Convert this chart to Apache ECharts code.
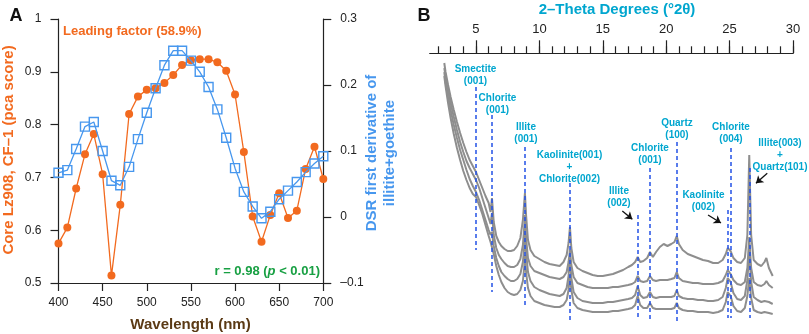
<!DOCTYPE html>
<html>
<head>
<meta charset="utf-8">
<script src="https://cdn.jsdelivr.net/npm/echarts@6/dist/echarts.min.js"></script>
<style>html,body{margin:0;padding:0;background:#fff}#main{width:809px;height:334px}</style>
</head>
<body>
<div id="main"></div>
<script>
// panel A
var wavelength=[400,410,420,430,440,450,460,470,480,490,500,510,520,530,540,550,560,570,580,590,600,610,620,630,640,650,660,670,680,690,700];
var cf1Score=[0.575,0.605,0.679,0.744,0.782,0.706,0.514,0.648,0.820,0.853,0.866,0.869,0.879,0.894,0.913,0.922,0.924,0.924,0.918,0.902,0.857,0.748,0.626,0.578,0.629,0.670,0.623,0.637,0.716,0.758,0.697];
var dsrDeriv=[0.067,0.071,0.103,0.137,0.144,0.100,0.055,0.048,0.076,0.118,0.158,0.195,0.230,0.252,0.252,0.237,0.220,0.197,0.163,0.120,0.074,0.038,0.016,-0.002,0.008,0.027,0.040,0.053,0.068,0.081,0.092];

// panel B
var twoTheta=[2.5,2.6,2.8,3.0,3.25,3.5,3.75,4.0,4.25,4.5,
	4.75,5.0,5.25,5.5,5.75,6.0,6.15,6.26,6.4,6.6,
	6.8,7.0,7.25,7.5,7.75,8.0,8.25,8.5,8.7,8.8,
	8.86,8.95,9.1,9.3,9.6,10.0,10.4,10.8,11.2,11.6,
	11.9,12.15,12.3,12.41,12.52,12.7,13.0,13.4,13.8,14.2,
	14.6,15.0,15.4,15.8,16.2,16.6,17.0,17.3,17.55,17.75,
	17.95,18.2,18.5,18.72,18.95,19.2,19.5,19.8,20.1,20.4,
	20.65,20.83,21.0,21.3,21.7,22.1,22.5,22.9,23.3,23.7,
	24.1,24.45,24.7,24.85,25.08,25.3,25.6,25.9,26.2,26.4,
	26.55,26.7,26.9,27.2,27.5,27.75,27.9,28.1,28.4];
var xrd1=[267,258,245,233,220,208,197,187,178,170,
	164,158,150,142,134,127,118,132,108,94,
	88,84,81,79,79,80,84,92,110,127,
	137,115,90,80,74,71,68,66,65,64,
	68,75,87,103,82,68,62,59,57,55,
	54,54,55,56,58,60,63,65,68,73,
	68,69,72,78,73,78,83,86,84,86,
	88,94,86,80,76,74,72,70,69,67,
	67,70,76,82,79,72,68,67,72,95,
	175,95,70,66,64,68,72,62,54];
var xrd2=[262,254,240,227,213,200,188,178,169,162,
	156,150,142,132,122,112,106,117,95,82,
	75,71,67,64,63,63,65,71,85,102,
	115,92,72,64,59,57,55,53,52,51,
	53,58,68,80,65,53,47,45,43,42,
	42,42,42,43,43,44,45,46,48,54,
	49,48,49,54,50,49,50,50,50,51,
	52,58,52,49,48,47,47,46,46,46,
	47,49,55,60,56,50,46,45,48,62,
	93,62,48,45,44,46,49,45,42];
var xrd3=[258,248,233,220,205,192,180,170,160,151,
	144,138,130,120,110,100,95,98,84,72,
	64,58,54,51,49,49,51,56,68,82,
	98,78,58,49,43,40,38,36,35,34,
	36,42,54,72,52,38,32,29,28,27,
	27,27,28,28,29,30,31,32,35,44,
	35,32,33,38,33,32,33,33,33,33,
	34,40,34,32,31,31,30,30,29,29,
	30,33,42,52,48,37,31,30,34,50,
	78,48,33,30,28,29,31,28,26];
var xrd4=[254,244,227,212,196,182,170,159,150,142,
	136,133,125,116,105,94,88,90,76,64,
	55,48,42,38,36,35,36,40,49,62,
	75,58,42,34,29,27,25,24,23,23,
	25,30,40,55,40,27,22,20,19,18,
	18,18,18,19,19,20,21,22,25,34,
	25,22,22,27,22,21,21,21,21,21,
	22,27,22,20,19,19,18,18,18,17,
	18,20,28,38,34,24,19,18,22,34,
	52,32,20,18,17,18,19,17,16];
var thetaMajor=[5,10,15,20,25,30];
var thetaMinor=[2,3,4,5,6,7,8,9,10,11,12,13,14,15,16,17,18,19,20,21,22,23,24,25,26,27,28,29,30];
// peak position, dashed line top and bottom intensity
var peakDeg=[5.0,6.26,8.86,12.41,17.75,18.72,20.83,24.84,25.08,26.55];
var peakTop=[243,215,183,147,115,162,188,120,182,162];
var peakBot=[80,38,22,10,10,10,8,12,12,12];

var FONT='Liberation Sans, Arial, sans-serif';
var ORANGE='#f26a1f', BLUE='#4797ee', CYAN='#00a6cf', DASH='#2352e6', GREY='#8e8e8e';

function pairs(xs,ys){
	var out=[];
	for(var i=0;i<xs.length;++i){ out[i]=[xs[i],ys[i]]; }
	return out;
}

function txt(text,x,y,color,size,extra){
	var st={text:text,x:0,y:0,fill:color,font:'bold '+size+'px '+FONT,align:'center',verticalAlign:'top',lineHeight:Math.round(size*1.15)};
	for(var k in extra){ st[k]=extra[k]; }
	return {type:'text',x:x,y:y,style:st,silent:true,z:20};
}

var myChart=echarts.init(document.getElementById('main'));

var peakLines=[];
for(var i=0;i<peakDeg.length;++i){
	peakLines.push([{coord:[peakDeg[i],peakTop[i]]},{coord:[peakDeg[i],peakBot[i]]}]);
}

var tickStyle={color:'#222',width:1.2};

var option={
	animation:false,
	grid:[
		{left:58.5,right:485.7,top:19,bottom:51,outerBoundsMode:'none'},
		{left:429.7,right:16,top:53.3,bottom:4,outerBoundsMode:'none'},
		{left:429.7,right:16,top:53.3,bottom:4,outerBoundsMode:'none'}
	],
	xAxis:[
		{type:'value',gridIndex:0,min:400,max:700,interval:50,position:'bottom',
			axisLine:{onZero:false,lineStyle:tickStyle},axisTick:{length:8,lineStyle:tickStyle},
			axisLabel:{margin:14,color:'#222',fontSize:12,fontFamily:FONT},splitLine:{show:false}},
		{type:'value',gridIndex:1,min:1.35,max:30,position:'top',
			axisLine:{onZero:false,lineStyle:tickStyle},axisTick:{length:7,customValues:thetaMinor,lineStyle:tickStyle},
			axisLabel:{show:false},splitLine:{show:false}},
		{type:'value',gridIndex:2,min:1.35,max:30,position:'top',
			axisLine:{show:false,onZero:false},axisTick:{length:13,customValues:thetaMajor,lineStyle:tickStyle},
			axisLabel:{customValues:thetaMajor,margin:17,color:'#222',fontSize:13,fontFamily:FONT},splitLine:{show:false}}
	],
	yAxis:[
		{type:'value',gridIndex:0,min:0.5,max:1,interval:0.1,position:'left',
			axisLine:{show:true,onZero:false,lineStyle:tickStyle},axisTick:{show:true,length:8,lineStyle:tickStyle},
			axisLabel:{margin:17,color:'#222',fontSize:12,fontFamily:FONT,formatter:function(v){return v===1?'1':v.toFixed(1);}},
			splitLine:{show:false}},
		{type:'value',gridIndex:0,min:-0.1,max:0.3,interval:0.1,position:'right',
			axisLine:{show:true,onZero:false,lineStyle:tickStyle},axisTick:{show:true,length:8,lineStyle:tickStyle},
			axisLabel:{margin:17,color:'#222',fontSize:12,fontFamily:FONT,formatter:function(v){
				if(Math.abs(v)<1e-9) return '0';
				return v<0?'\u2013'+Math.abs(v).toFixed(1):v.toFixed(1);}},
			splitLine:{show:false}},
		{type:'value',gridIndex:1,min:0,max:276.7,show:false,splitLine:{show:false}},
		{type:'value',gridIndex:2,min:0,max:276.7,show:false,splitLine:{show:false}}
	],
	series:[
		{name:'CF-1',type:'line',xAxisIndex:0,yAxisIndex:0,data:pairs(wavelength,cf1Score),
			symbol:'circle',symbolSize:8,lineStyle:{color:ORANGE,width:1.3},itemStyle:{color:ORANGE},z:3},
		{name:'DSR',type:'line',xAxisIndex:0,yAxisIndex:1,data:pairs(wavelength,dsrDeriv),
			symbol:'rect',symbolSize:9,lineStyle:{color:BLUE,width:1.3},
			itemStyle:{color:'rgba(255,255,255,0)',borderColor:BLUE,borderWidth:1.4},z:4},
		{type:'line',xAxisIndex:1,yAxisIndex:2,data:pairs(twoTheta,xrd1),symbol:'none',lineStyle:{color:GREY,width:2},z:2},
		{type:'line',xAxisIndex:1,yAxisIndex:2,data:pairs(twoTheta,xrd2),symbol:'none',lineStyle:{color:GREY,width:2},z:2},
		{type:'line',xAxisIndex:1,yAxisIndex:2,data:pairs(twoTheta,xrd3),symbol:'none',lineStyle:{color:GREY,width:2},z:2},
		{type:'line',xAxisIndex:1,yAxisIndex:2,data:pairs(twoTheta,xrd4),symbol:'none',lineStyle:{color:GREY,width:2},z:2,
			markLine:{silent:true,symbol:['none','none'],label:{show:false},
				lineStyle:{color:DASH,width:1.5,type:[4,3]},data:peakLines}},
		{type:'line',xAxisIndex:1,yAxisIndex:2,data:[],
			markLine:{silent:true,symbol:['none','arrow'],symbolSize:7,label:{show:false},
				lineStyle:{color:'#111',width:1.3,type:'solid'},
				data:[
					[{coord:[16.54,119]},{coord:[17.33,110.7]}],
					[{coord:[23.30,115]},{coord:[24.32,107]}],
					[{coord:[27.97,156.7]},{coord:[27.08,146.7]}]
				]}}
	],
	graphic:[
		txt('A',16,6,'#111',18),
		txt('B',424,6,'#111',18),
		txt('Leading factor (58.9%)',63,24,ORANGE,13,{align:'left'}),
		{type:'text',x:320,y:265,silent:true,z:20,style:{text:'r = 0.98 ({i|p} < 0.01)',fill:'#18a043',font:'bold 13px '+FONT,align:'right',verticalAlign:'top',
			rich:{i:{fontStyle:'italic',fontWeight:'bold',fontSize:13,fontFamily:FONT,fill:'#18a043'}}}},
		txt('Wavelength (nm)',190.5,316,'#5b3a15',15),
		{type:'text',x:9,y:150,rotation:Math.PI/2,silent:true,z:20,
			style:{text:'Core Lz908, CF\u20131 (pca score)',fill:ORANGE,font:'bold 15px '+FONT,align:'center',verticalAlign:'middle'}},
		{type:'text',x:372,y:153,rotation:Math.PI/2,silent:true,z:20,
			style:{text:'DSR first derivative of',fill:BLUE,font:'bold 15px '+FONT,align:'center',verticalAlign:'middle'}},
		{type:'text',x:390,y:153,rotation:Math.PI/2,silent:true,z:20,
			style:{text:'illitite+goethite',fill:BLUE,font:'bold 15px '+FONT,align:'center',verticalAlign:'middle'}},
		txt('2\u2013Theta Degrees (\u00b02\u03b8)',617,1,CYAN,15),
		txt('Smectite\n(001)',475.5,63,CYAN,10),
		txt('Chlorite\n(001)',497.5,92,CYAN,10),
		txt('Illite\n(001)',526,121,CYAN,10),
		txt('Kaolinite(001)\n+\nChlorite(002)',569.5,149,CYAN,10),
		txt('Illite\n(002)',619,185,CYAN,10),
		txt('Chlorite\n(001)',650,142,CYAN,10),
		txt('Quartz\n(100)',677,117,CYAN,10),
		txt('Chlorite\n(004)',731,121,CYAN,10),
		txt('Kaolinite\n(002)',703.5,189,CYAN,10),
		txt('Illite(003)\n+\nQuartz(101)',780,137,CYAN,10)
	]
};

myChart.setOption(option);
</script>
</body>
</html>
